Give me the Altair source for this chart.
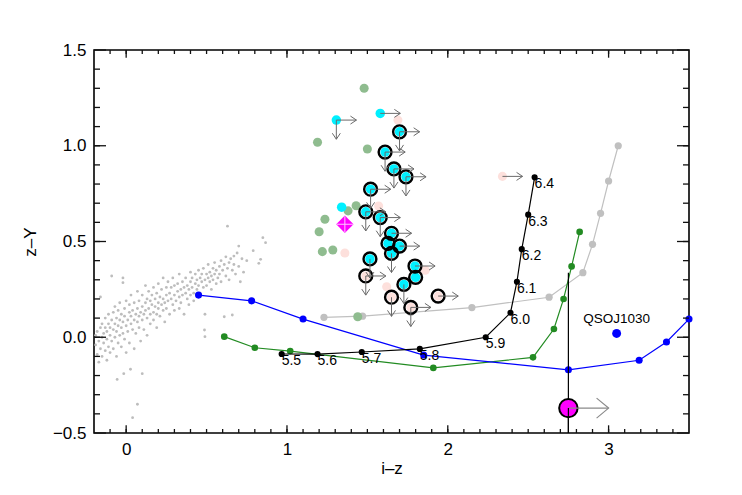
import altair as alt
import pandas as pd
import numpy as np

FONT = "Liberation Sans"
W, H = 595, 383
X_DOMAIN = [-0.2, 3.5]
Y_DOMAIN = [-0.5, 1.5]
X_MAJOR = [0, 1, 2, 3]
Y_MAJOR = [-0.5, 0.0, 0.5, 1.0, 1.5]
X_MINOR = [round(v, 1) for v in np.arange(-0.1, 3.45, 0.1)]
Y_MINOR = [round(v, 1) for v in np.arange(-0.4, 1.45, 0.1)]

# field stars (grey points)
star_xy = [
    (-0.19,-0.04),(-0.19,0.01),(-0.18,-0.09),(-0.18,0.03),(-0.17,-0.02),(-0.17,-0.13),(-0.16,0.05),(-0.16,-0.06),(-0.16,0.21),(-0.15,0.00),(-0.15,-0.10),(-0.15,0.07),
    (-0.14,-0.03),(-0.14,0.02),(-0.13,-0.07),(-0.13,0.05),(-0.13,0.10),(-0.12,-0.01),(-0.12,-0.12),(-0.12,0.03),(-0.11,0.07),(-0.11,-0.05),(-0.11,0.12),(-0.10,0.01),(-0.10,-0.08),(-0.10,0.05),(-0.09,0.32),(-0.09,0.09),
    (-0.09,-0.02),(-0.08,0.04),(-0.08,0.13),(-0.08,-0.06),(-0.07,0.07),(-0.07,0.00),(-0.07,0.16),(-0.06,0.03),(-0.06,-0.10),(-0.06,0.10),(-0.05,0.06),(-0.05,-0.03),(-0.05,0.14),(-0.056,-0.22),(-0.04,0.01),(-0.04,0.09),(-0.04,0.18),
    (-0.03,0.05),(-0.03,-0.05),(-0.03,0.12),(-0.02,0.08),(-0.02,0.31),(-0.02,0.285),(-0.02,0.02),(-0.015,-0.19),(-0.01,0.11),(-0.01,-0.01),(-0.01,0.15),(0.00,0.06),(0.00,0.19),(0.00,-0.08),
    (0.01,0.09),(0.01,0.03),(0.02,0.13),(0.02,0.17),(0.02,-0.03),(0.027,-0.167),(0.03,0.07),(0.03,0.11),(0.03,0.22),(0.04,-0.42),(0.04,0.04),(0.04,0.14),(0.05,0.09),(0.05,0.18),(0.05,-0.06),
    (0.06,0.12),(0.06,0.02),(0.07,-0.35),(0.07,0.15),(0.07,0.08),(0.07,0.24),(0.08,0.11),(0.08,0.05),(0.08,0.19),(0.09,0.13),(0.09,-0.02),(0.10,-0.19),(0.10,0.16),(0.10,0.09),(0.10,0.22),
    (0.11,0.12),(0.11,0.04),(0.12,0.18),(0.12,0.14),(0.12,0.27),(0.13,0.10),(0.13,0.20),(0.13,0.01),(0.14,0.15),(0.14,0.24),(0.15,0.12),(0.15,0.07),(0.15,0.19),
    (0.16,0.17),(0.16,0.22),(0.17,0.13),(0.17,0.09),(0.17,0.26),(0.18,0.16),(0.18,0.20),(0.19,0.12),(0.19,0.05),(0.19,0.23),(0.20,0.18),(0.20,0.15),(0.20,0.28),
    (0.21,0.21),(0.21,0.11),(0.22,0.17),(0.22,0.25),(0.23,0.14),(0.23,0.20),(0.23,0.31),(0.24,0.18),(0.24,0.08),(0.25,0.22),(0.25,0.26),(0.25,0.15),
    (0.26,0.19),(0.26,0.29),(0.27,0.23),(0.27,0.12),(0.28,0.20),(0.28,0.26),(0.29,0.17),(0.29,0.31),(0.30,0.22),(0.30,0.14),(0.30,0.27),(0.31,0.19),
    (0.32,0.24),(0.32,0.28),(0.33,0.21),(0.33,0.15),(0.33,0.33),(0.34,0.25),(0.34,0.18),(0.35,0.22),(0.35,0.29),(0.36,0.26),(0.36,0.12),(0.37,0.23),(0.37,0.31),
    (0.38,0.20),(0.38,0.27),(0.39,0.25),(0.39,0.17),(0.40,0.29),(0.40,0.22),(0.40,0.34),(0.41,0.26),(0.41,0.31),(0.42,0.23),(0.42,0.19),(0.43,0.28),(0.43,0.33),
    (0.44,0.25),(0.44,0.30),(0.45,0.27),(0.45,0.35),(0.46,0.31),(0.46,0.23),(0.47,0.29),(0.47,0.33),(0.48,0.26),(0.48,0.36),(0.487,0.038),(0.49,0.003),(0.49,0.12),(0.49,0.30),(0.50,0.33),(0.50,0.27),
    (0.51,0.31),(0.51,0.38),(0.52,0.29),(0.52,0.34),(0.53,0.32),(0.53,0.25),(0.54,0.36),(0.54,0.30),(0.55,0.33),(0.55,0.39),(0.56,0.28),(0.56,0.35),
    (0.57,0.31),(0.58,0.37),(0.58,0.33),(0.59,0.40),(0.59,0.29),(0.60,0.35),(0.61,0.107),(0.61,0.38),(0.62,0.32),(0.62,0.42),(0.63,0.58),(0.63,0.36),(0.64,0.39),(0.64,0.30),
    (0.65,0.41),(0.66,0.116),(0.66,0.35),(0.67,0.424),(0.67,0.38),(0.68,0.33),(0.69,0.44),(0.70,0.476),(0.70,0.37),(0.71,0.29),(0.73,0.34),(0.75,0.40),(0.79,0.452),(0.825,0.386),(0.836,0.407),(0.85,0.52),(0.867,0.494),(0.72,0.41),
]
star_x = [p[0] for p in star_xy]
star_y = [p[1] for p in star_xy]

# model tracks
blue_x = [0.45, 0.78, 1.10, 1.85, 2.75, 3.19, 3.36, 3.50]
blue_y = [0.22, 0.19, 0.095, -0.093, -0.17, -0.12, -0.025, 0.095]
green_x = [0.61, 0.80, 1.02, 1.91, 2.53, 2.66, 2.72, 2.77, 2.82]
green_y = [0.003, -0.055, -0.072, -0.16, -0.105, 0.043, 0.20, 0.37, 0.55]
grey_x = [1.23, 1.47, 1.77, 2.15, 2.63, 2.84, 2.90, 2.95, 3.00, 3.06]
grey_y = [0.104, 0.11, 0.13, 0.155, 0.209, 0.337, 0.485, 0.647, 0.816, 1.00]
qso_x = [0.967, 1.19, 1.465, 1.826, 2.236, 2.39, 2.43, 2.46, 2.50, 2.54]
qso_y = [-0.0875, -0.088, -0.077, -0.061, 0.0, 0.128, 0.29, 0.46, 0.64, 0.835]
qso_z = ["5.5", "5.6", "5.7", "5.8", "5.9", "6.0", "6.1", "6.2", "6.3", "6.4"]

# candidates
cyan_x = [1.307, 1.58, 1.70, 1.61, 1.665, 1.74, 1.52, 1.34, 1.49, 1.58, 1.65, 1.628, 1.70, 1.65, 1.516, 1.796, 1.80, 1.727]
cyan_y = [1.134, 1.169, 1.073, 0.967, 0.879, 0.838, 0.773, 0.679, 0.655, 0.625, 0.543, 0.49, 0.476, 0.438, 0.409, 0.372, 0.313, 0.276]
pink_x = [1.69, 1.57, 1.36, 1.62, 1.49, 1.65, 1.94, 1.77, 2.34, 1.86]
pink_y = [1.134, 0.685, 0.44, 0.264, 0.32, 0.209, 0.215, 0.156, 0.84, 0.35]
sage_x = [1.48, 1.19, 1.50, 1.43, 1.38, 1.236, 1.20, 1.22, 1.285, 1.44]
sage_y = [1.30, 1.018, 0.983, 0.687, 0.66, 0.616, 0.551, 0.447, 0.456, 0.107]
ring_x = [1.70, 1.61, 1.665, 1.74, 1.52, 1.49, 1.58, 1.65, 1.628, 1.70, 1.65, 1.516, 1.796, 1.80, 1.727, 1.49, 1.65, 1.94, 1.77]
ring_y = [1.073, 0.967, 0.879, 0.838, 0.773, 0.655, 0.625, 0.543, 0.49, 0.476, 0.438, 0.409, 0.372, 0.313, 0.276, 0.32, 0.209, 0.215, 0.156]
right_x = [1.307, 1.58, 1.70, 1.61, 1.665, 1.74, 1.52, 1.49, 1.58, 1.65, 1.70, 1.796, 1.49, 1.94, 1.77, 2.34]
right_y = [1.134, 1.169, 1.073, 0.967, 0.879, 0.838, 0.773, 0.655, 0.625, 0.543, 0.476, 0.372, 0.32, 0.215, 0.156, 0.84]
down_x = [1.307, 1.70, 1.61, 1.665, 1.74, 1.52, 1.49, 1.58, 1.65, 1.516, 1.727, 1.49, 1.65, 1.77]
down_y = [1.134, 1.073, 0.967, 0.879, 0.838, 0.773, 0.655, 0.625, 0.438, 0.409, 0.276, 0.32, 0.209, 0.156]
diamond_x, diamond_y = [1.36], [0.59]
big_x, big_y = [2.75], [-0.37]
big_bar_top = [0.337]
j1030_x, j1030_y, j1030_name = [3.05], [0.02], ["QSOJ1030"]

R_LEN = 0.125
D_LEN = 0.10
BIG_R_LEN = 0.25

xs = alt.Scale(domain=X_DOMAIN, nice=False, zero=False)
ys = alt.Scale(domain=Y_DOMAIN, nice=False, zero=False)

def X(field="x", axis=None):
    if axis is None:
        return alt.X(f"{field}:Q", scale=xs)
    return alt.X(f"{field}:Q", scale=xs, axis=axis)

def Y(field="y", axis=None):
    if axis is None:
        return alt.Y(f"{field}:Q", scale=ys)
    return alt.Y(f"{field}:Q", scale=ys, axis=axis)

stars = pd.DataFrame({"x": star_x, "y": star_y})
x_axis = alt.Axis(values=X_MAJOR, format="d", ticks=False, domain=False, grid=False, labelFont=FONT,
                  labelFontSize=17, labelColor="black", labelPadding=8, title="i–z",
                  titleFont=FONT, titleFontSize=17, titleFontWeight="normal", titleColor="black",
                  titleY=35, titleBaseline="middle")
y_axis = alt.Axis(values=Y_MAJOR, format=".1f", ticks=False, domain=False, grid=False,
                  labelFont=FONT, labelFontSize=17, labelColor="black", labelPadding=8,
                  title="z–Y", titleFont=FONT, titleFontSize=17, titleFontWeight="normal",
                  titleColor="black", titleX=-64, titleY=H / 2, titleAngle=270,
                  titleBaseline="middle", titleAlign="center")

layers = []
layers.append(alt.Chart(stars).mark_circle(size=8, color="#bdbdbd", opacity=1).encode(
    x=X(axis=x_axis), y=Y(axis=y_axis)))

def track(xv, yv, color, size, sw=1.2):
    df = pd.DataFrame({"x": xv, "y": yv, "o": range(len(xv))})
    line = alt.Chart(df).mark_line(color=color, strokeWidth=sw).encode(x=X(), y=Y(), order="o:Q")
    pts = alt.Chart(df).mark_circle(color=color, size=size, opacity=1).encode(x=X(), y=Y())
    return [line, pts]

layers += track(grey_x, grey_y, "#c0c0c0", 52)
layers += track(green_x, green_y, "#228b22", 44)
layers += track(blue_x, blue_y, "#0000ff", 50)
layers += track(qso_x, qso_y, "#000000", 38)

qdf = pd.DataFrame({"x": qso_x, "y": qso_y, "t": qso_z})
layers.append(alt.Chart(qdf).mark_text(align="left", baseline="top", font=FONT, fontSize=14,
                                       color="black", dx=0, dy=0).encode(x=X(), y=Y(), text="t:N"))

# vertical bar of the magenta object
bar = pd.DataFrame({"x": big_x, "y": [Y_DOMAIN[0]], "y2": big_bar_top})
layers.append(alt.Chart(bar).mark_rule(color="black", strokeWidth=1.2).encode(x=X(), y=Y(), y2="y2:Q"))

layers.append(alt.Chart(pd.DataFrame({"x": sage_x, "y": sage_y})).mark_circle(
    size=82, color="#8fbc8f", opacity=1).encode(x=X(), y=Y()))
layers.append(alt.Chart(pd.DataFrame({"x": pink_x, "y": pink_y})).mark_circle(
    size=82, color="#fde0dc", opacity=1).encode(x=X(), y=Y()))
layers.append(alt.Chart(pd.DataFrame({"x": cyan_x, "y": cyan_y})).mark_circle(
    size=90, color="#00f0ff", opacity=1).encode(x=X(), y=Y()))
layers.append(alt.Chart(pd.DataFrame({"x": ring_x, "y": ring_y})).mark_point(
    size=165, color="black", strokeWidth=2.4, filled=False, opacity=1).encode(x=X(), y=Y()))

ARROW_C = "#6a6a6a"
RIGHT_HEAD = "M-1.5,-1L0,0L-1.5,1"
DOWN_HEAD = "M-1,-1.5L0,0L1,-1.5"
rdf = pd.DataFrame({"x": right_x, "y": right_y})
rdf["x2"] = rdf["x"] + R_LEN
ddf = pd.DataFrame({"x": down_x, "y": down_y})
ddf["y2"] = ddf["y"] - D_LEN
layers.append(alt.Chart(rdf).mark_rule(color=ARROW_C, strokeWidth=1).encode(x=X(), x2="x2:Q", y=Y()))
layers.append(alt.Chart(rdf).mark_point(shape=RIGHT_HEAD, size=64, filled=False, color=ARROW_C,
                                        strokeWidth=1, opacity=1).encode(x=X("x2"), y=Y()))
layers.append(alt.Chart(ddf).mark_rule(color=ARROW_C, strokeWidth=1).encode(x=X(), y=Y(), y2="y2:Q"))
layers.append(alt.Chart(ddf).mark_point(shape=DOWN_HEAD, size=64, filled=False, color=ARROW_C,
                                        strokeWidth=1, opacity=1).encode(x=X(), y=Y("y2")))

# magenta diamond
dd = pd.DataFrame({"x": diamond_x, "y": diamond_y})
layers.append(alt.Chart(dd).mark_point(shape="diamond", size=300, filled=True, color="#ff00ff",
                                       opacity=1).encode(x=X(), y=Y()))
layers.append(alt.Chart(dd).mark_point(shape="M-1,0L1,0M0,-1L0,1", size=260, filled=False,
                                       color="#ffc8ff", strokeWidth=1, opacity=1).encode(x=X(), y=Y()))

# magenta big circle with arrow
bdf = pd.DataFrame({"x": big_x, "y": big_y})
bdf["x2"] = bdf["x"] + BIG_R_LEN
layers.append(alt.Chart(bdf).mark_point(shape="circle", size=340, filled=True, fill="#ff00ff",
                                        stroke="black", strokeWidth=2, opacity=1).encode(x=X(), y=Y()))
layers.append(alt.Chart(bdf).mark_rule(color="#8a8a8a", strokeWidth=1.2).encode(x=X(), x2="x2:Q", y=Y()))
layers.append(alt.Chart(bdf).mark_point(shape="M-1.2,-1L0,0L-1.2,1", size=400, filled=False,
                                        color="#8a8a8a", strokeWidth=1.2, opacity=1).encode(x=X("x2"), y=Y()))
layers.append(alt.Chart(pd.DataFrame({"x": big_x, "y": [-0.5], "y2": big_y})).mark_rule(
    color="black", strokeWidth=1.2).encode(x=X(), y=Y(), y2="y2:Q"))

# QSO J1030
jdf = pd.DataFrame({"x": j1030_x, "y": j1030_y, "t": j1030_name})
layers.append(alt.Chart(jdf).mark_circle(size=80, color="#0000ff", opacity=1).encode(x=X(), y=Y()))
layers.append(alt.Chart(jdf).mark_text(font=FONT, fontSize=13.5, color="black", baseline="bottom",
                                       dy=-7).encode(x=X(), y=Y(), text="t:N"))

# inward ticks on all four sides
TICK_C = "#111111"
def xticks(vals, ln):
    df = pd.DataFrame({"x": vals})
    b = alt.Chart(df).mark_rule(color=TICK_C, strokeWidth=1.3).encode(x=X(), y=alt.value(H), y2=alt.value(H - ln))
    t = alt.Chart(df).mark_rule(color=TICK_C, strokeWidth=1.3).encode(x=X(), y=alt.value(0), y2=alt.value(ln))
    return [b, t]

def yticks(vals, ln):
    df = pd.DataFrame({"y": vals})
    l = alt.Chart(df).mark_rule(color=TICK_C, strokeWidth=1.3).encode(y=Y(), x=alt.value(0), x2=alt.value(ln))
    r = alt.Chart(df).mark_rule(color=TICK_C, strokeWidth=1.3).encode(y=Y(), x=alt.value(W), x2=alt.value(W - ln))
    return [l, r]

layers += xticks(X_MINOR, 4)
layers += xticks(X_MAJOR, 7.7)
layers += yticks(Y_MINOR, 6)
layers += yticks(Y_MAJOR, 12)

chart = alt.layer(*layers).properties(
    width=W, height=H,
    background="white",
    autosize=alt.AutoSizeParams(type="none"),
    padding={"left": 86, "top": 42, "right": 45, "bottom": 54},
).configure_view(stroke="black", strokeWidth=1.6)

chart.save("out.html", embed_options={"renderer": "svg", "actions": False})
